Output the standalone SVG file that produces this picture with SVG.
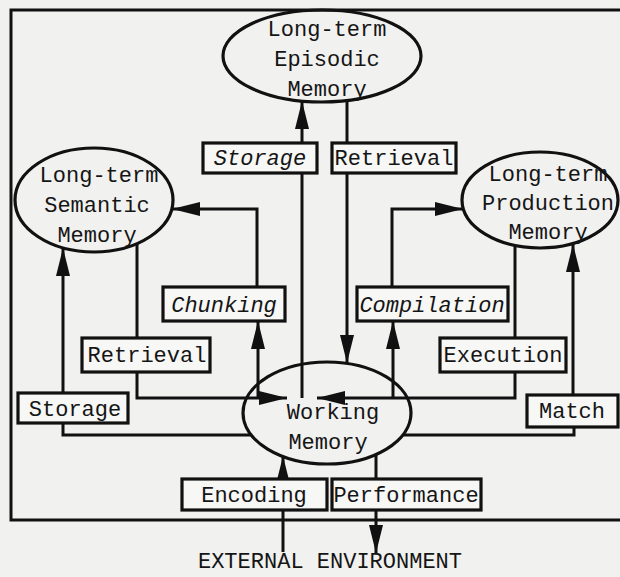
<svg xmlns="http://www.w3.org/2000/svg" width="620" height="577" viewBox="0 0 620 577">
<style>
  .bg { fill: #f1f1f0; }
  .frame, .ln { fill: none; stroke: #111; stroke-width: 3; }
  .mem { fill: none; stroke: #111; stroke-width: 3.2; }
  .box { fill: #f7f7f6; stroke: #111; stroke-width: 3.2; }
  text { font-family: "Liberation Mono", "DejaVu Sans Mono", monospace; font-size: 22px; fill: #151515; text-anchor: middle; }
  .it { font-style: italic; }
</style>
<defs>
  <marker id="ah" markerUnits="userSpaceOnUse" markerWidth="28" markerHeight="14" refX="28" refY="7" orient="auto">
    <path d="M0,0 L28,7 L0,14 Z" fill="#111"/>
  </marker>
</defs>
<rect class="bg" x="0" y="0" width="620" height="577"/>
<path class="frame" d="M620,10 H11 V520 H620"/>

<g id="connectors">
  <path class="ln" d="M302,398 V173"/>
  <path class="ln" d="M302,143 V101" marker-end="url(#ah)"/>
  <path class="ln" d="M347,100 V143"/>
  <path class="ln" d="M347,173 V363" marker-end="url(#ah)"/>
  <path class="ln" d="M258,398 V321" marker-end="url(#ah)"/>
  <path class="ln" d="M257,287 V209 H172" marker-end="url(#ah)"/>
  <path class="ln" d="M393,398 V321" marker-end="url(#ah)"/>
  <path class="ln" d="M392,287 V209 H463" marker-end="url(#ah)"/>
  <path class="ln" d="M137,244 V338"/>
  <path class="ln" d="M137,372 V398 H287" marker-end="url(#ah)"/>
  <path class="ln" d="M515,245 V338"/>
  <path class="ln" d="M515,372 V398 H317" marker-end="url(#ah)"/>
  <path class="ln" d="M251,435 H63 V423"/>
  <path class="ln" d="M63,393 V248" marker-end="url(#ah)"/>
  <path class="ln" d="M403,435 H574 V427"/>
  <path class="ln" d="M573,395 V244" marker-end="url(#ah)"/>
  <path class="ln" d="M283,552 V510"/>
  <path class="ln" d="M283,479 V456" marker-end="url(#ah)"/>
  <path class="ln" d="M376,454 V479"/>
  <path class="ln" d="M376,510 V553" marker-end="url(#ah)"/>
</g>

<g id="episodic">
  <ellipse class="mem" cx="322" cy="56" rx="99" ry="46"/>
  <text x="327" y="36">Long-term</text>
  <text x="327" y="66">Episodic</text>
  <text x="327" y="96">Memory</text>
</g>
<g id="semantic">
  <ellipse class="mem" cx="94" cy="200" rx="79" ry="52"/>
  <text x="99" y="182">Long-term</text>
  <text x="97" y="212">Semantic</text>
  <text x="97" y="242">Memory</text>
</g>
<g id="production">
  <ellipse class="mem" cx="540" cy="200" rx="78" ry="48"/>
  <text x="548" y="181">Long-term</text>
  <text x="548" y="210">Production</text>
  <text x="548" y="239">Memory</text>
</g>
<g id="working">
  <ellipse class="mem" cx="327" cy="413" rx="84" ry="51"/>
  <text x="333" y="419">Working</text>
  <text x="328" y="449">Memory</text>
</g>

<g id="storage-episodic"><rect class="box" x="203" y="143" width="114" height="30"/><text class="it" x="260" y="165">Storage</text></g>
<g id="retrieval-episodic"><rect class="box" x="332" y="143" width="124" height="30"/><text x="394" y="165">Retrieval</text></g>
<g id="chunking"><rect class="box" x="163" y="287" width="122" height="34"/><text class="it" x="224" y="312">Chunking</text></g>
<g id="compilation"><rect class="box" x="357" y="287" width="151" height="34"/><text class="it" x="432" y="312">Compilation</text></g>
<g id="retrieval-semantic"><rect class="box" x="82" y="338" width="128" height="34"/><text x="147" y="362">Retrieval</text></g>
<g id="execution"><rect class="box" x="440" y="338" width="126" height="34"/><text x="503" y="362">Execution</text></g>
<g id="storage-semantic"><rect class="box" x="18" y="393" width="110" height="30"/><text x="75" y="416">Storage</text></g>
<g id="match"><rect class="box" x="527" y="395" width="91" height="32"/><text x="572" y="418">Match</text></g>
<g id="encoding"><rect class="box" x="182" y="479" width="145" height="31"/><text x="254" y="502">Encoding</text></g>
<g id="performance"><rect class="box" x="332" y="479" width="149" height="31"/><text x="406" y="502">Performance</text></g>

<g id="external">
  <text x="330" y="568">EXTERNAL ENVIRONMENT</text>
</g>
</svg>
